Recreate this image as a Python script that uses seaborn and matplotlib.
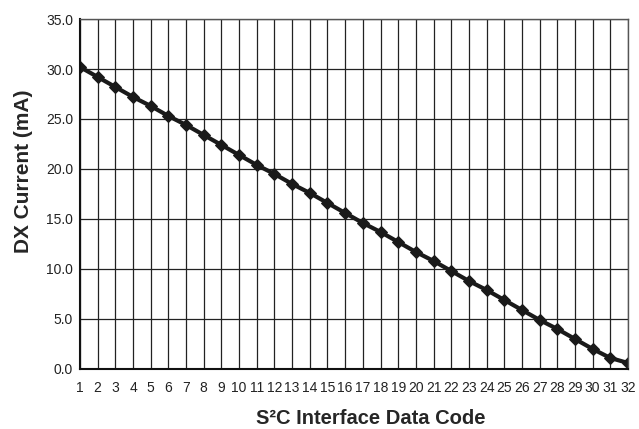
import numpy as np
import pandas as pd
import seaborn as sns
import matplotlib
matplotlib.use('Agg')
import matplotlib.pyplot as plt

codes = list(range(1, 33))
current = [30.2, 29.2, 28.2, 27.2, 26.3, 25.3, 24.4, 23.4, 22.4, 21.4,
           20.4, 19.5, 18.5, 17.6, 16.6, 15.6, 14.6, 13.7, 12.7, 11.7,
           10.8, 9.8, 8.8, 7.9, 6.9, 5.9, 4.9, 4.0, 3.0, 2.0,
           1.1, 0.6]
y_ticks = [0, 5, 10, 15, 20, 25, 30, 35]

df = pd.DataFrame({'code': codes, 'current': current})

sns.set_style('white')
plt.rcParams['font.family'] = ['Liberation Sans', 'DejaVu Sans']

fig = plt.figure(figsize=(6.39, 4.29), dpi=100)
ax = fig.add_axes([0.1252, 0.1399, 0.8576, 0.8158])

sns.lineplot(data=df, x='code', y='current', ax=ax, color='#1a1a1a',
             linewidth=3, marker='D', markersize=6.5, markeredgecolor='#1a1a1a')

ax.set_xlim(1, 32)
ax.set_ylim(0, 35)
ax.set_xticks(codes)
ax.set_xticklabels([str(c) for c in codes], fontsize=10, color='#222222')
ax.set_yticks(y_ticks)
ax.set_yticklabels(['%.1f' % v for v in y_ticks], fontsize=10, color='#222222')
ax.tick_params(axis='x', length=0, pad=9)
ax.tick_params(axis='y', length=0, pad=5)

ax.grid(True, color='#222222', linewidth=0.9)
ax.set_axisbelow(True)
for side in ['top', 'right']:
    ax.spines[side].set_color('#555555')
    ax.spines[side].set_linewidth(1)
for side in ['left', 'bottom']:
    ax.spines[side].set_color('#111111')
    ax.spines[side].set_linewidth(1.5)

ax.set_xlabel('S²C Interface Data Code', fontsize=14.5, fontweight='bold', labelpad=10)
ax.set_ylabel('DX Current (mA)', fontsize=15, fontweight='bold', labelpad=9)
# labels in the original sit a bit off-centre
ax.xaxis.label.set_x(0.53)
ax.yaxis.label.set_y(0.566)

fig.savefig('out.png', dpi=100)
